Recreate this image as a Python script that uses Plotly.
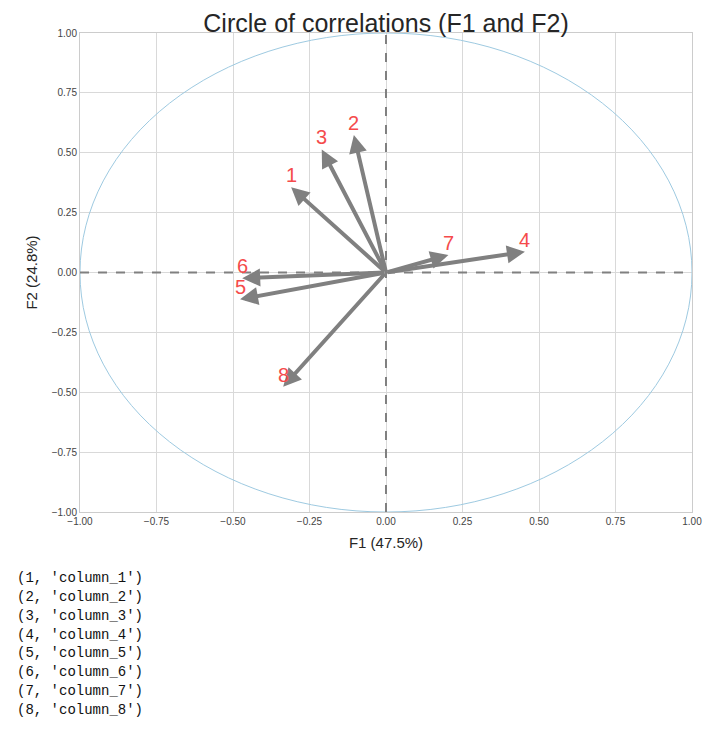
import plotly.graph_objects as go

# ---- data ----
var_ids = [1, 2, 3, 4, 5, 6, 7, 8]
var_names = ["column_1", "column_2", "column_3", "column_4",
             "column_5", "column_6", "column_7", "column_8"]
f1_coords = [-0.31, -0.105, -0.21, 0.454, -0.477, -0.47, 0.204, -0.336]
f2_coords = [0.356, 0.574, 0.514, 0.087, -0.112, -0.024, 0.073, -0.477]
x_ticks = [-1.0, -0.75, -0.5, -0.25, 0.0, 0.25, 0.5, 0.75, 1.0]
y_ticks = [-1.0, -0.75, -0.5, -0.25, 0.0, 0.25, 0.5, 0.75, 1.0]
title_text = "Circle of correlations (F1 and F2)"
x_title = "F1 (47.5%)"
y_title = "F2 (24.8%)"

OFF = 8  # page body margin
W, H = 699, 714
ML, MT = 80 - OFF, 33 - OFF
PW, PH = 612, 479
MR = W - ML - PW
MB = H - MT - PH

fig = go.Figure()

fig.add_trace(go.Scatter(x=f1_coords, y=f2_coords, mode="markers",
                         marker=dict(size=1, opacity=0), hoverinfo="skip",
                         showlegend=False))

annotations = []
for vid, fx, fy in zip(var_ids, f1_coords, f2_coords):
    annotations.append(dict(x=fx, y=fy, ax=0, ay=0, xref="x", yref="y",
                            axref="x", ayref="y", text="", showarrow=True,
                            arrowhead=2, arrowsize=0.9, arrowwidth=4,
                            arrowcolor="#808080"))
    annotations.append(dict(x=fx, y=fy, xref="x", yref="y", text=str(vid),
                            showarrow=False, yshift=12,
                            font=dict(size=20, color="#f54b4b",
                                      family="Liberation Sans, Arial")))

# text lines below the chart (page pixel positions)
line_y0 = 578
line_step = 18.85
for i, (vid, name) in enumerate(zip(var_ids, var_names)):
    py = line_y0 + i * line_step - OFF
    px = 15 - OFF
    annotations.append(dict(x=(px - ML) / PW, y=(MT + PH - py) / PH,
                            xref="paper", yref="paper", xanchor="left",
                            yanchor="middle", showarrow=False,
                            text=f"({vid}, '{name}')",
                            font=dict(size=14, color="#111111",
                                      family="Liberation Mono, DejaVu Sans Mono, monospace")))

shapes = [
    dict(type="circle", xref="x", yref="y", x0=-1, y0=-1, x1=1, y1=1,
         line=dict(color="#9ecae1", width=1), layer="above"),
    dict(type="line", xref="x", yref="y", x0=-1, x1=1, y0=0, y1=0,
         line=dict(color="#808080", width=2, dash="dash")),
    dict(type="line", xref="x", yref="y", x0=0, x1=0, y0=-1, y1=1,
         line=dict(color="#808080", width=2, dash="dash")),
]

axis_common = dict(showgrid=True, gridcolor="#d9d9d9", gridwidth=1,
                   zeroline=False, showline=True, linecolor="#cccccc",
                   linewidth=1, mirror=True, ticks="", automargin=False,
                   tickfont=dict(size=10, color="#444444",
                                 family="Liberation Sans, Arial"),
                   tickformat=".2f")

fig.update_layout(
    width=W, height=H,
    margin=dict(l=ML, r=MR, t=MT, b=MB, pad=0),
    paper_bgcolor="white", plot_bgcolor="white",
    title=dict(text=title_text, x=(386 - OFF) / W, xanchor="center",
               y=1 - (23 - OFF) / H, yanchor="middle", automargin=False,
               font=dict(size=25, color="#262626",
                         family="Liberation Sans, Arial")),
    xaxis=dict(range=[-1, 1], tickvals=x_ticks,
               title=dict(text=x_title, standoff=11,
                          font=dict(size=15, color="#262626",
                                    family="Liberation Sans, Arial")),
               **axis_common),
    yaxis=dict(range=[-1, 1], tickvals=y_ticks,
               title=dict(text=y_title, standoff=10,
                          font=dict(size=15, color="#262626",
                                    family="Liberation Sans, Arial")),
               **axis_common),
    annotations=annotations,
    shapes=shapes,
    showlegend=False,
)

fig.write_html("out.html")
